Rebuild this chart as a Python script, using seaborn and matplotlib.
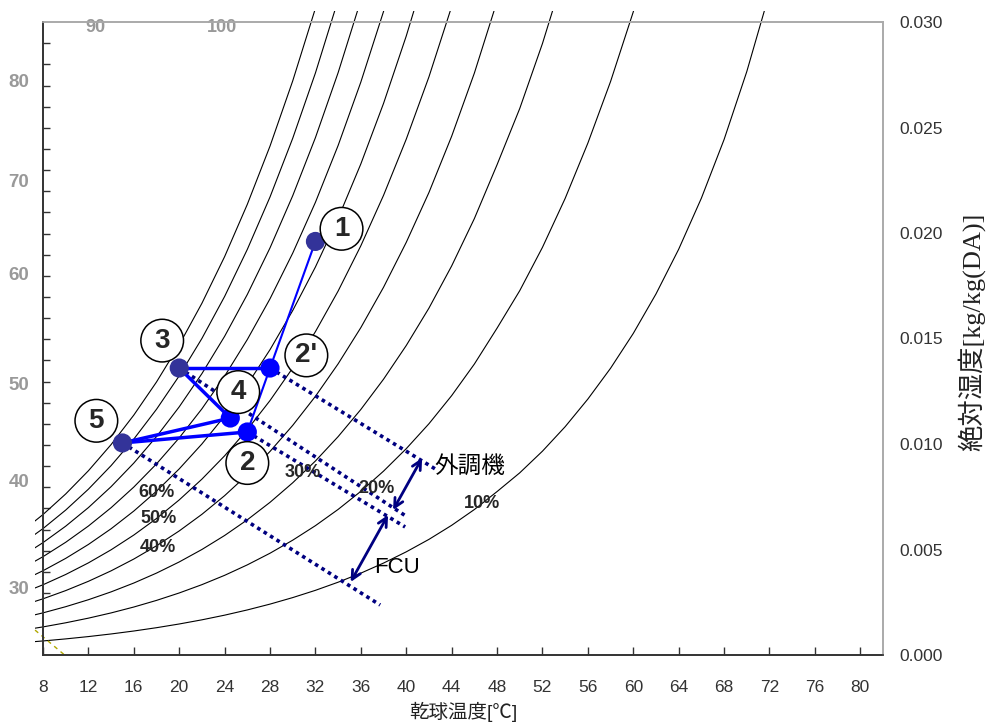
import numpy as np
import pandas as pd
import seaborn as sns
import matplotlib.pyplot as plt
from matplotlib.patches import Rectangle
from matplotlib.ticker import FixedLocator

sns.set_theme(style="white")
plt.rcParams['font.family'] = ['Liberation Sans', 'Noto Sans CJK JP', 'DejaVu Sans']

# saturation humidity [kg/kg(DA)] vs dry-bulb temperature
temps = [6, 8, 10, 12, 14, 16, 18, 20, 22, 24, 26, 28, 30, 32, 34, 36, 38, 40,
         42, 44, 46, 48, 50, 52, 54, 56, 58, 60, 62, 64, 66, 68, 70, 72]
x_sat = [0.005795, 0.006657, 0.007632, 0.008732, 0.009973, 0.01137, 0.01294,
         0.01470, 0.01667, 0.01888, 0.02136, 0.02412, 0.02721, 0.03065,
         0.03450, 0.03879, 0.04357, 0.04889, 0.05480, 0.06146, 0.06894,
         0.07745, 0.08634, 0.0966, 0.1082, 0.1213, 0.1359, 0.1524, 0.1711,
         0.1923, 0.2165, 0.2443, 0.2765, 0.3137]
pct_levels = [100, 90, 80, 70, 60, 50, 40, 30, 20, 10]

# process points
pt_names = ['1', "2'", '3', '4', '2', '5']
pt_temp = [32.0, 28.0, 20.0, 24.5, 26.0, 15.0]
pt_hum = [0.0196, 0.0136, 0.0136, 0.01123, 0.01057, 0.01005]
pt_kind = ['a', 'b', 'a', 'b', 'b', 'a']

# circled labels
lab_text = ['1', "2'", '3', '4', '2', '5']
lab_temp = [34.3, 31.2, 18.5, 25.2, 26.0, 12.7]
lab_hum = [0.0202, 0.0142, 0.0149, 0.01246, 0.0091, 0.0111]

# dotted lines from points
dot_from = ["2'", '3', '2', '5']
dot_end_temp = [42.7, 40.1, 39.9, 37.7]
dot_end_hum = [0.00877, 0.00654, 0.00607, 0.00237]

# percent labels
rh_text = ['60%', '50%', '40%', '30%', '20%', '10%']
rh_temp = [18.0, 18.2, 18.1, 30.9, 37.4, 46.7]
rh_hum = [0.0077, 0.00645, 0.0051, 0.00867, 0.0079, 0.0072]

# left scale labels
left_labels = ['30', '40', '50', '60', '70', '80']
left_pos = [0.00318, 0.00829, 0.01289, 0.01810, 0.02251, 0.02725]

df = pd.DataFrame([(t, p * xs / 100, p) for p in pct_levels
                   for t, xs in zip(temps, x_sat)], columns=['T', 'x', 'pct'])
pts = pd.DataFrame({'name': pt_names, 'T': pt_temp, 'x': pt_hum, 'kind': pt_kind})
P = {n: (t, h) for n, t, h in zip(pt_names, pt_temp, pt_hum)}

fig = plt.figure(figsize=(9.9, 7.27), dpi=100)
ax = fig.add_axes([43 / 990, 72 / 727, 840 / 990, 633 / 727])

sns.lineplot(data=df, x='T', y='x', hue='pct', palette=['black'] * len(pct_levels),
             estimator=None, sort=False, linewidth=0.8, legend=False, ax=ax)
clip = Rectangle((7.3, -0.001), 80, 0.0315, transform=ax.transData)
for ln in ax.lines:
    ln.set_clip_path(clip)

# small enthalpy guide in the corner
ax.plot([7.3, 9.9], [0.00118, 0.0], color='#b0a800', lw=1, ls=(0, (3, 3)), clip_on=False)

# dotted lines
for n, te, he in zip(dot_from, dot_end_temp, dot_end_hum):
    t0, h0 = P[n]
    ax.plot([t0, te], [h0, he], color='#000080', lw=2.6, ls=(0, (1, 1.1)), zorder=3)

# process lines
segs = [('1', "2'", 1.5), ("2'", '3', 2.5), ('3', '4', 2.5), ('4', '5', 2.5),
        ('5', '2', 2.5), ('2', "2'", 1.5)]
for a, b, w in segs:
    ax.plot([P[a][0], P[b][0]], [P[a][1], P[b][1]], color='#0000ff', lw=w, zorder=4)

sns.scatterplot(data=pts, x='T', y='x', hue='kind', palette={'a': '#333399', 'b': '#0000ff'},
                s=190, linewidth=0, legend=False, zorder=5, ax=ax)

for t, x, h in zip(lab_text, lab_temp, lab_hum):
    ax.text(x, h, t, ha='center', va='center', fontsize=20, fontweight='bold',
            family=['Liberation Sans Narrow', 'Liberation Sans'], zorder=6,
            bbox=dict(boxstyle='circle,pad=0.3', fc='white', ec='black', lw=1.1))

for t, x, h in zip(rh_text, rh_temp, rh_hum):
    ax.text(x, h, t, ha='center', va='center', fontsize=13, fontweight='bold',
            family=['Liberation Sans Narrow', 'Liberation Sans'], zorder=6)

# arrows
arr = dict(arrowstyle='<->', color='#000080', lw=2, mutation_scale=16, shrinkA=0, shrinkB=0)
ax.annotate('', xy=(41.4, 0.00934), xytext=(38.84, 0.00687), arrowprops=arr, zorder=6)
ax.annotate('', xy=(38.4, 0.00664), xytext=(35.1, 0.00346), arrowprops=arr, zorder=6)
ax.text(45.6, 0.0089, '外調機', ha='center', va='center', fontsize=17, color='black')
ax.text(39.2, 0.00417, 'FCU', ha='center', va='center', fontsize=16, color='black')

# top labels
ax.text(12.6, 0.02972, '90', ha='center', va='center', fontsize=13, color='#999999',
        fontweight='bold')
ax.text(23.8, 0.02972, '100', ha='center', va='center', fontsize=13, color='#999999',
        fontweight='bold')

ax.set_xlim(8, 82)
ax.set_ylim(0, 0.030)
ax.set_xticks(range(8, 81, 4))
ax.tick_params(axis='x', direction='in', length=6, width=1, color='#333333',
               labelsize=12.5, labelcolor='#333333', pad=18, bottom=True)
ax.set_xlabel('乾球温度[℃]', fontsize=14, color='#222222', labelpad=5)

ax.yaxis.set_major_locator(FixedLocator(left_pos))
ax.set_yticklabels(left_labels)
ax.yaxis.set_minor_locator(FixedLocator(np.arange(0.00294, 0.0295, 0.001002)))
ax.tick_params(axis='y', which='major', length=0, labelsize=13.5, labelcolor='#999999', pad=10)
ax.tick_params(axis='y', which='minor', direction='in', length=5, width=1, color='#333333',
               left=True)
for lb in ax.get_yticklabels():
    lb.set_fontweight('bold')
ax.set_ylabel('')

ax2 = ax.twinx()
ax2.set_ylim(0, 0.030)
ax2.set_yticks([0, 0.005, 0.010, 0.015, 0.020, 0.025, 0.030])
ax2.set_yticklabels(['0.000', '0.005', '0.010', '0.015', '0.020', '0.025', '0.030'])
ax2.tick_params(axis='y', length=0, labelsize=12.5, labelcolor='#333333', pad=12)
ax2.set_ylabel('絶対湿度[kg/kg(DA)]', fontsize=19, color='#222222',
               family=['Liberation Serif', 'Noto Sans CJK JP'])
ax2.yaxis.set_label_coords(1.089, 0.51)
ax2.grid(False)
ax.grid(False)

for a in (ax, ax2):
    a.spines['left'].set_color('#333333')
    a.spines['bottom'].set_color('#333333')
    a.spines['top'].set_color('#aaaaaa')
    a.spines['right'].set_color('#aaaaaa')
    for s in a.spines.values():
        s.set_linewidth(1.2)

fig.savefig('out.png', dpi=100, facecolor='white')
